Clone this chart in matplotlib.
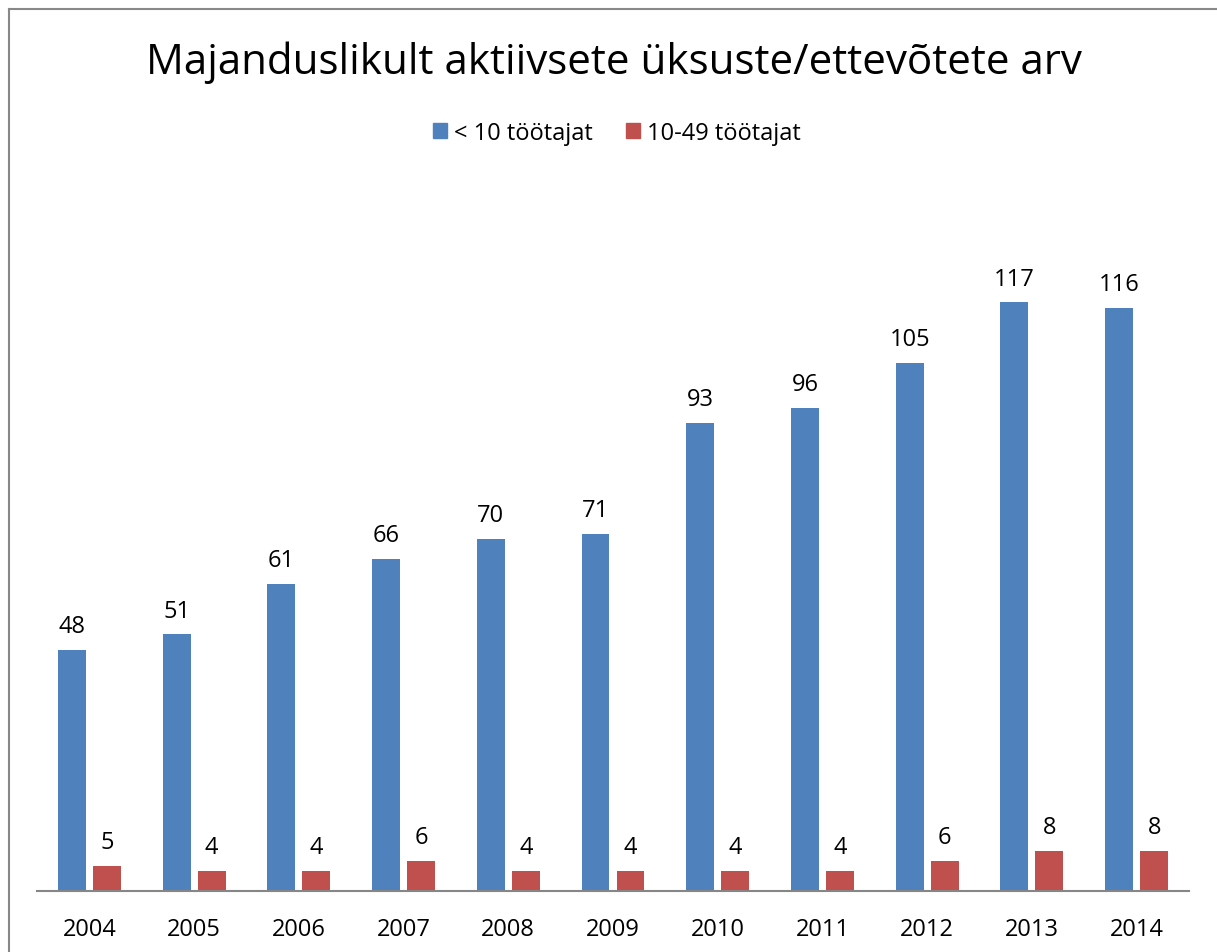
import matplotlib
matplotlib.use("Agg")
import matplotlib.pyplot as plt
from matplotlib.lines import Line2D
from matplotlib.patches import Patch
import numpy as np

plt.rcParams['font.family'] = ['Open Sans', 'DejaVu Sans']

aastad = ['2004', '2005', '2006', '2007', '2008', '2009', '2010', '2011', '2012', '2013', '2014']
alla_10 = [48, 51, 61, 66, 70, 71, 93, 96, 105, 117, 116]
kuni_49 = [5, 4, 4, 6, 4, 4, 4, 4, 6, 8, 8]
seeria_nimed = ['< 10 töötajat', '10-49 töötajat']

sinine = '#4F81BD'
punane = '#C0504D'

W, H = 1217, 953
fig = plt.figure(figsize=(W / 100, H / 100), dpi=100)

# raam ümber joonise (parem ja alumine serv jäävad pildist välja)
raam = '#888888'
for xs, ys in [([8.5, 8.5], [10, 953]), ([8.5, 1217], [10, 10])]:
    fig.add_artist(Line2D([x / W for x in xs], [1 - y / H for y in ys],
                          color=raam, lw=1.5, transform=fig.transFigure))

ax_vasak, ax_parem, ax_all = 37, 1189, 892
skaala = 5.03
ax_ules = ax_all - 140 * skaala
ax = fig.add_axes([ax_vasak / W, 1 - ax_all / H,
                   (ax_parem - ax_vasak) / W, (ax_all - ax_ules) / H])

x = np.arange(len(aastad))
laius = 0.267
nihe = 0.167
b1 = ax.bar(x - nihe, alla_10, laius, color=sinine)
b2 = ax.bar(x + nihe, kuni_49, laius, color=punane)

for bars, vals in [(b1, alla_10), (b2, kuni_49)]:
    for r, v in zip(bars, vals):
        ax.annotate(str(v), (r.get_x() + r.get_width() / 2, v),
                    xytext=(0, 8.5), textcoords='offset points',
                    ha='center', va='bottom', fontsize=17, color='black')

ax.set_xlim(-0.5, len(aastad) - 0.5)
ax.set_ylim(0, 140)
ax.set_xticks(x)
ax.set_xticklabels(aastad, fontsize=17)
ax.tick_params(axis='x', length=0, pad=19)
ax.set_yticks([])
for s in ['top', 'right', 'left']:
    ax.spines[s].set_visible(False)
ax.spines['bottom'].set_color('#868686')
ax.spines['bottom'].set_linewidth(1.5)

fig.text(614 / W, 1 - 63 / H, 'Majanduslikult aktiivsete üksuste/ettevõtete arv',
         ha='center', va='center', fontsize=30.3)

kasid = [Patch(color=sinine), Patch(color=punane)]
fig.legend(kasid, seeria_nimed, loc='center', bbox_to_anchor=(617 / W, 1 - 134 / H),
           ncol=2, frameon=False, fontsize=17, handlelength=0.6, handleheight=0.6,
           handletextpad=0.3, columnspacing=1.4)

fig.savefig('out.png', dpi=100)
